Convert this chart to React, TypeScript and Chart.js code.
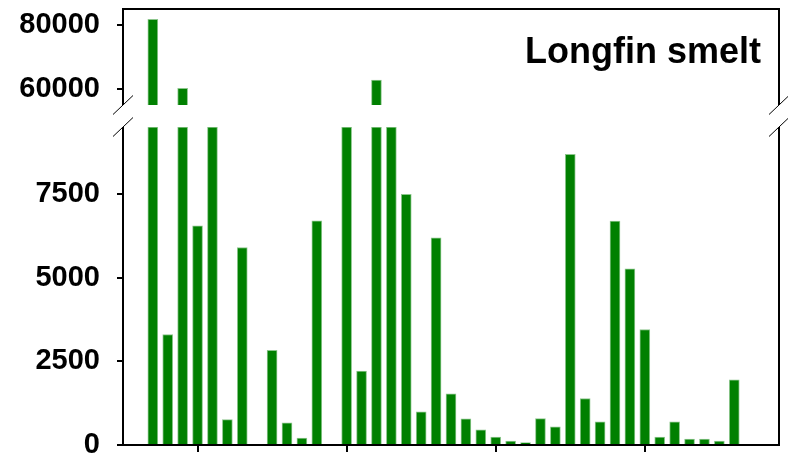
import React, { useEffect, useRef } from "react";
import { Chart, registerables } from "chart.js";

Chart.register(...registerables);

// ---- data ----
const YEARS = [
  1967, 1968, 1969, 1970, 1971, 1972, 1973, 1974, 1975, 1976,
  1977, 1978, 1979, 1980, 1981, 1982, 1983, 1984, 1985, 1986,
  1987, 1988, 1989, 1990, 1991, 1992, 1993, 1994, 1995, 1996,
  1997, 1998, 1999, 2000, 2001, 2002, 2003, 2004, 2005, 2006,
];
const INDEX_VALUES: (number | null)[] = [
  81800, 3300, 60200, 6550, 15000, 760, 5900, null, 2830, 660,
  210, 6700, null, 31000, 2210, 62800, 12000, 7490, 990, 6190,
  1530, 780, 450, 240, 120, 70, 790, 540, 8680, 1390,
  690, 6690, 5260, 3450, 240, 690, 180, 180, 120, 1950,
];
const X_TICKS = [1970, 1980, 1990, 2000];
const TOP_TICKS = [60000, 80000];
const BOTTOM_TICKS = [0, 2500, 5000, 7500];
const TITLE = "Longfin smelt";

// axis break ranges
const X_MIN = 1965;
const X_MAX = 2009;
const TOP_MIN = 55000;
const TOP_MAX = 85000;
const BOTTOM_MAX = 9500;

// layout
const TOP_PANEL_PX = 96;
const GAP_PX = 22;
const BOTTOM_PANEL_PX = 318;
const TOP_SCALE_MIN = TOP_MIN - ((TOP_MAX - TOP_MIN) * GAP_PX) / TOP_PANEL_PX;

const FONT = "'Liberation Sans', Arial, Helvetica, sans-serif";
const GREEN = "#008000";

const framePlugin = {
  id: "brokenFrame",
  afterDraw(chart: any) {
    const { ctx, chartArea } = chart;
    const yTop = chart.scales.yTop;
    const yBottom = chart.scales.yBottom;
    const L = chartArea.left;
    const R = chartArea.right;
    const T = chartArea.top;
    const B = chartArea.bottom;
    const breakTop = yTop.getPixelForValue(TOP_MIN);
    const breakBottom = yBottom.getPixelForValue(BOTTOM_MAX);
    ctx.save();
    ctx.strokeStyle = "#000";
    ctx.lineWidth = 2;
    ctx.lineCap = "butt";
    ctx.beginPath();
    // top panel
    ctx.moveTo(L, breakTop);
    ctx.lineTo(L, T);
    ctx.lineTo(R, T);
    ctx.lineTo(R, breakTop);
    // bottom panel
    ctx.moveTo(L, breakBottom);
    ctx.lineTo(L, B);
    ctx.lineTo(R, B);
    ctx.lineTo(R, breakBottom);
    ctx.stroke();
    // break slashes
    ctx.lineWidth = 1;
    ctx.beginPath();
    for (const x of [L, R]) {
      for (const y of [breakTop, breakBottom]) {
        ctx.moveTo(x - 10, y + 9.5);
        ctx.lineTo(x + 10, y - 9.5);
      }
    }
    ctx.stroke();
    // title
    ctx.fillStyle = "#000";
    ctx.font = `bold 36px ${FONT}`;
    ctx.textAlign = "right";
    ctx.textBaseline = "alphabetic";
    ctx.fillText(TITLE, R - 18, T + 54);
    ctx.restore();
  },
};

function fixWidth(scale: any) {
  scale.width = 123;
  scale.paddingTop = 0;
  scale.paddingBottom = 0;
}

export default function App() {
  const ref = useRef<HTMLCanvasElement | null>(null);

  useEffect(() => {
    if (!ref.current) return;
    const lowerData = INDEX_VALUES.map((v) =>
      v == null ? null : [0, Math.min(v, BOTTOM_MAX)]
    );
    const upperData = INDEX_VALUES.map((v) =>
      v != null && v > TOP_MIN ? [TOP_MIN, Math.min(v, TOP_MAX)] : null
    );
    const tickFont = { family: FONT, size: 29, weight: "bold" as const };
    const grid = {
      drawOnChartArea: false,
      drawTicks: true,
      tickLength: 6,
      tickColor: "#000",
      color: "#000",
      lineWidth: 2,
    };
    const chart = new Chart(ref.current, {
      type: "bar",
      data: {
        labels: YEARS,
        datasets: [
          {
            label: "lower",
            data: lowerData as any,
            yAxisID: "yBottom",
            backgroundColor: GREEN,
            borderColor: "rgba(0,128,0,0.45)",
            borderWidth: 1,
            barThickness: 10,
            grouped: false,
          },
          {
            label: "upper",
            data: upperData as any,
            yAxisID: "yTop",
            backgroundColor: GREEN,
            borderColor: "rgba(0,128,0,0.45)",
            borderWidth: 1,
            barThickness: 10,
            grouped: false,
          },
        ],
      },
      options: {
        animation: false,
        responsive: false,
        layout: { padding: { top: 9, right: 9, bottom: 0, left: 0 } },
        plugins: {
          legend: { display: false },
          tooltip: { enabled: false },
          title: { display: false },
        },
        scales: {
          x: {
            type: "linear",
            min: X_MIN,
            max: X_MAX,
            offset: false,
            grid: { ...grid, offset: false, tickLength: 7 },
            border: { display: false },
            ticks: { display: false },
            afterBuildTicks: (s: any) => {
              s.ticks = X_TICKS.map((v) => ({ value: v }));
            },
            afterFit: (s: any) => {
              s.height = 13;
              s.paddingLeft = 0;
              s.paddingRight = 0;
            },
          },
          yBottom: {
            type: "linear",
            position: "left",
            stack: "y",
            stackWeight: BOTTOM_PANEL_PX,
            min: 0,
            max: BOTTOM_MAX,
            beginAtZero: false,
            grid,
            border: { display: false },
            ticks: {
              font: tickFont,
              color: "#000",
              padding: 17,
              callback: (v: any) => String(v),
            },
            afterBuildTicks: (s: any) => {
              s.ticks = BOTTOM_TICKS.map((v) => ({ value: v }));
            },
            afterFit: fixWidth,
          },
          yTop: {
            type: "linear",
            position: "left",
            stack: "y",
            stackWeight: TOP_PANEL_PX + GAP_PX,
            min: TOP_SCALE_MIN,
            max: TOP_MAX,
            beginAtZero: false,
            grid,
            border: { display: false },
            ticks: {
              font: tickFont,
              color: "#000",
              padding: 17,
              callback: (v: any) => String(v),
            },
            afterBuildTicks: (s: any) => {
              s.ticks = TOP_TICKS.map((v) => ({ value: v }));
            },
            afterFit: fixWidth,
          },
        },
      },
      plugins: [framePlugin],
    });
    return () => chart.destroy();
  }, []);

  return (
    <div style={{ position: "absolute", left: 0, top: 0, width: 788, height: 458, background: "#fff" }}>
      <canvas ref={ref} width={788} height={458} style={{ display: "block" }} />
    </div>
  );
}
